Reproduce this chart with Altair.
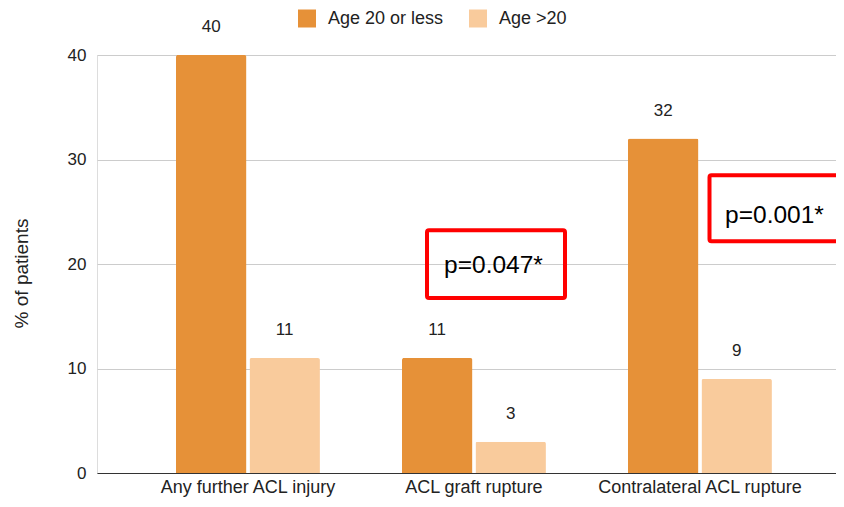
import altair as alt
import pandas as pd

# ---- data ----
categories = ["Any further ACL injury", "ACL graft rupture", "Contralateral ACL rupture"]
series = ["Age 20 or less", "Age >20"]
age_20_or_less = [40, 11, 32]
age_over_20 = [11, 3, 9]
y_ticks = [0, 10, 20, 30, 40]
p_labels = ["p=0.047*", "p=0.001*"]
colors = ["#E69138", "#F9CB9C"]

rows = []
for i, c in enumerate(categories):
    rows.append({"category": c, "group": series[0], "value": age_20_or_less[i]})
    rows.append({"category": c, "group": series[1], "value": age_over_20[i]})
df = pd.DataFrame(rows)
df["label"] = df["value"].astype(str)

FONT = "Arial, Liberation Sans, sans-serif"
TXT = "#222222"
W, H = 739, 418

xscale = alt.Scale(domain=categories, paddingInner=0.363, paddingOuter=0.3165, align=0.552)
yscale = alt.Scale(domain=[0, 40], nice=False)

base = alt.Chart(df).encode(
    x=alt.X("category:N", scale=xscale, sort=categories,
            axis=alt.Axis(title=None, labelAngle=0, labelFontSize=18, labelFont=FONT,
                          labelColor=TXT, labelPadding=5, labelLimit=400, ticks=False, grid=False,
                          domainColor="#333333", domainWidth=1)),
    xOffset=alt.XOffset("group:N", sort=series, scale=alt.Scale(domain=series, paddingInner=0.041)),
)

bars = base.mark_bar(cornerRadiusTopLeft=2, cornerRadiusTopRight=2).encode(
    y=alt.Y("value:Q", scale=yscale,
            axis=alt.Axis(values=y_ticks, title="% of patients", grid=True, gridColor="#cccccc",
                          domain=False, ticks=False, labelPadding=11, labelFontSize=17,
                          labelFont=FONT, labelColor=TXT, titleFont=FONT, titleFontSize=19,
                          titleFontWeight="normal", titleColor=TXT, titleAngle=270,
                          titleX=-76, titleY=218, titleAlign="center", titleBaseline="middle")),
    color=alt.Color("group:N", sort=series, scale=alt.Scale(domain=series, range=colors),
                    legend=alt.Legend(title=None, orient="none", legendX=201, legendY=-45.5,
                                      direction="horizontal", symbolType="square",
                                      symbolSize=324, symbolStrokeWidth=0, labelFontSize=18,
                                      labelFont=FONT, labelColor=TXT, labelOffset=12,
                                      columnPadding=25, padding=0)),
)

labels = base.mark_text(baseline="alphabetic", dy=-23, fontSize=17, font=FONT, color=TXT).encode(
    y=alt.Y("value:Q", scale=yscale), text="label:N")

one = pd.DataFrame({"k": [0]})

box1 = alt.Chart(one).mark_rect(filled=False, stroke="#ff0000", strokeWidth=4, cornerRadius=2, clip=True).encode(
    x=alt.value(330), x2=alt.value(468), y=alt.datum(23.22), y2=alt.datum(16.75))
box2 = alt.Chart(one).mark_rect(filled=False, stroke="#ff0000", strokeWidth=4, cornerRadius=2, clip=True).encode(
    x=alt.value(612.5), x2=alt.value(800), y=alt.datum(28.49), y2=alt.datum(22.17))
ptxt1 = alt.Chart(one).mark_text(baseline="alphabetic", fontSize=24.5, font=FONT, color="#000000").encode(
    x=alt.value(396.5), y=alt.datum(19.14), text=alt.value(p_labels[0]))
ptxt2 = alt.Chart(one).mark_text(baseline="alphabetic", fontSize=24.5, font=FONT, color="#000000").encode(
    x=alt.value(677.5), y=alt.datum(23.89), text=alt.value(p_labels[1]))

chart = alt.layer(bars, labels, box1, box2, ptxt1, ptxt2).properties(
    width=W, height=H,
    autosize=alt.AutoSizeParams(type="none"),
    padding={"left": 89, "top": 47, "right": 0, "bottom": 24},
).configure_view(stroke=None).configure(background="white")

chart.save("out.html", embed_options={"renderer": "svg", "actions": False})
